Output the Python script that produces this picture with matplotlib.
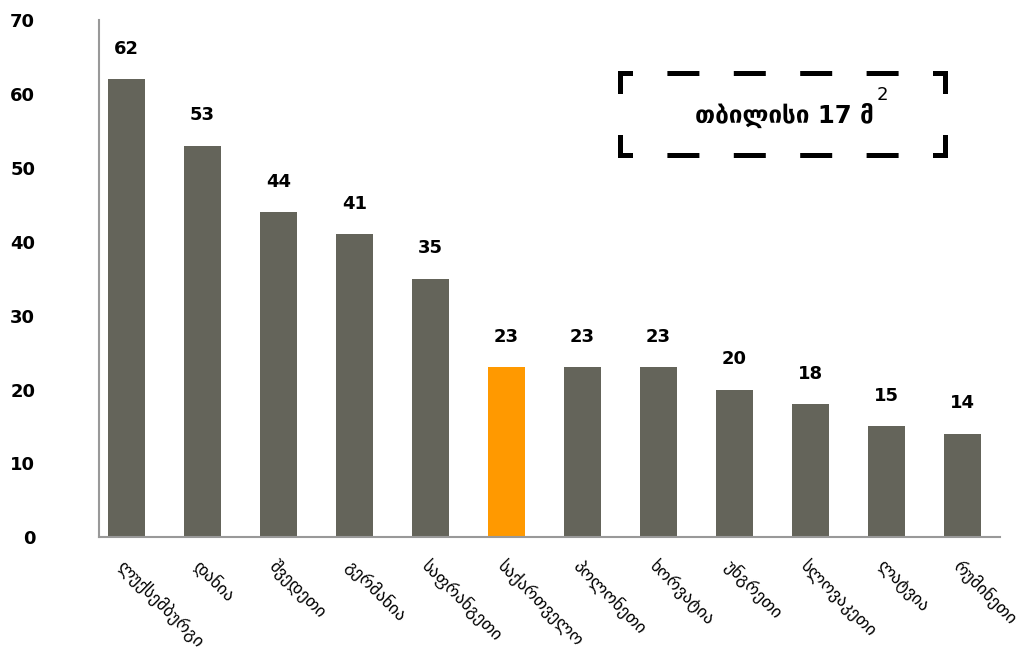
import matplotlib
matplotlib.use("Agg")
import matplotlib.pyplot as plt
from matplotlib.lines import Line2D

countries = ["ლუქსემბურგი", "დანია", "შვედეთი", "გერმანია", "საფრანგეთი", "საქართველო",
             "პოლონეთი", "ხორვატია", "უნგრეთი", "სლოვაკეთი", "ლატვია", "რუმინეთი"]
values = [62, 53, 44, 41, 35, 23, 23, 23, 20, 18, 15, 14]
highlight = "საქართველო"
y_ticks = [0, 10, 20, 30, 40, 50, 60, 70]
box_text = "თბილისი 17 მ"

GREY = "#64645a"
ORANGE = "#ff9900"

plt.rcParams["font.family"] = ["DejaVu Sans"]
plt.rcParams["lines.scale_dashes"] = False

fig = plt.figure(figsize=(10.24, 6.52), dpi=100)
ax = fig.add_axes([0.0967, 0.176, 0.88, 0.793])

colors = [ORANGE if c == highlight else GREY for c in countries]
x = range(len(countries))
bars = ax.bar(x, values, width=0.49, color=colors)

for b, v in zip(bars, values):
    ax.annotate(str(v), (b.get_x() + b.get_width() / 2, v), xytext=(0, 22),
                textcoords="offset points", ha="center", va="center",
                fontsize=13, fontweight="bold", color="black")

ax.set_xlim(-0.36, 11.5)
ax.set_ylim(0, 70)
ax.set_yticks(y_ticks)
ax.set_yticklabels([str(t) for t in y_ticks], fontsize=13, fontweight="bold")
ax.tick_params(axis="y", length=0, pad=46)
ax.set_xticks(list(x))
ax.set_xticklabels(countries, rotation=-45, ha="left", va="top",
                   rotation_mode="anchor", fontsize=12.5)
ax.tick_params(axis="x", length=0, pad=14)

for s in ["top", "right"]:
    ax.spines[s].set_visible(False)
for s in ["left", "bottom"]:
    ax.spines[s].set_color("#999999")
    ax.spines[s].set_linewidth(1.5)

# dashed frame around the Tbilisi note, sizes in pixels
W, H = 1024, 652
x0, x1, y0, y1 = 620, 945, 72.5, 154.5
px = 0.72  # points per pixel at dpi 100
lw = 5 * px

def edge(xa, ya, xb, yb, on, off, offset):
    ln = Line2D([xa / W, xb / W], [1 - ya / H, 1 - yb / H], transform=fig.transFigure,
                color="black", lw=lw, linestyle=(offset * px, (on * px, off * px)),
                dash_capstyle="projecting", solid_capstyle="projecting")
    fig.add_artist(ln)

edge(x0, y0, x1, y0, 27, 39.4, 17)
edge(x0, y1, x1, y1, 27, 39.4, 17)
edge(x0, y0, x0, y1, 18, 46, 0)
edge(x1, y0, x1, y1, 18, 46, 0)

t = fig.text(784 / W, 1 - 115 / H, box_text, ha="center", va="center",
             fontsize=17.5, fontweight="bold", color="black")
ax.annotate("2", xy=(1, 1), xycoords=t, xytext=(2, 5), textcoords="offset points",
            ha="left", va="center", fontsize=13, color="black")

fig.savefig("out.png", dpi=100, facecolor="white")
